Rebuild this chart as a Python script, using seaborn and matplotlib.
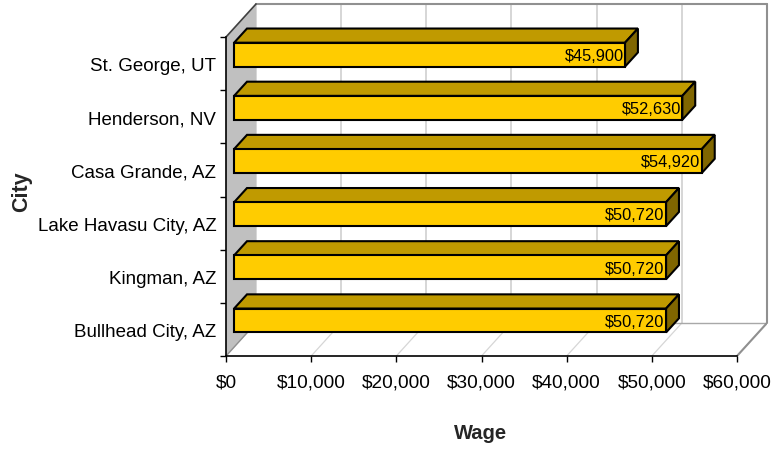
import matplotlib
matplotlib.use("Agg")
import matplotlib.pyplot as plt
from matplotlib.patches import Polygon
from matplotlib.ticker import FuncFormatter
import seaborn as sns
import pandas as pd

# Data
cities = ["St. George, UT", "Henderson, NV", "Casa Grande, AZ",
          "Lake Havasu City, AZ", "Kingman, AZ", "Bullhead City, AZ"]
wages = [45900, 52630, 54920, 50720, 50720, 50720]
x_ticks = [0, 10000, 20000, 30000, 40000, 50000, 60000]

df = pd.DataFrame({"City": cities, "Wage": wages})

sns.set_style("white")
plt.rcParams["font.family"] = ["Liberation Sans", "DejaVu Sans"]
fs_y, fs_x, fs_val = 13.5, 13.7, 11.8

W, H = 771, 452
fig = plt.figure(figsize=(W / 100, H / 100), dpi=100)
ax = fig.add_axes([226 / W, (H - 357) / H, (767 - 226) / W, (357 - 5) / H])

xmax = 60000
dx = 30 * xmax / 511          # depth of the 3D box in data units (x)
dy = 33 / (319 / 6)           # depth of the 3D box in category units (y)
f0, f1 = 0.27, 0.70           # front / back of the bars inside the depth

sns.barplot(data=df, x="Wage", y="City", orient="h", color="#FFCC00",
            saturation=1, edgecolor="black", linewidth=1.5, width=0.45,
            ax=ax, zorder=4)
bars = list(ax.patches)

# walls and floor
ax.add_patch(Polygon([(0, 5.5), (0, -0.5), (dx, -0.5 - dy), (dx, 5.5 - dy)],
                     closed=True, fc="#c0c0c0", ec="none", zorder=2))
for t in x_ticks:
    ax.plot([t, t + dx], [5.5, 5.5 - dy], color="#d6d6d6", lw=0.9, zorder=1)
    ax.plot([t + dx, t + dx], [5.5 - dy, -0.5 - dy], color="#cccccc", lw=1.1, zorder=1)
ax.plot([xmax + dx, xmax + dx], [5.5 - dy, -0.5 - dy], color="#909090", lw=1.5,
        zorder=1.5, clip_on=False)
ax.plot([dx, xmax + dx], [-0.5 - dy, -0.5 - dy], color="#909090", lw=1.5,
        zorder=1.5, clip_on=False)
ax.plot([dx, xmax + dx], [5.5 - dy, 5.5 - dy], color="#a8a8a8", lw=1, zorder=1.5)
ax.plot([xmax, xmax + dx], [5.5, 5.5 - dy], color="#909090", lw=1.5, zorder=1.5)
ax.plot([0, dx], [5.5, 5.5 - dy], color="#909090", lw=1, zorder=2.5)
ax.plot([0, dx], [-0.5, -0.5 - dy], color="#404040", lw=1.2, zorder=2.5,
        clip_on=False)

# 3D bars: shift the front face, then add top and side faces
d = f1 - f0
for p, v in zip(bars, wages):
    p.set_x(p.get_x() + f0 * dx)
    p.set_y(p.get_y() - f0 * dy)
    a, w = p.get_x(), p.get_width()
    yt, yb = p.get_y(), p.get_y() + p.get_height()
    top = [(a, yt), (a + w, yt), (a + w + d * dx, yt - d * dy), (a + d * dx, yt - d * dy)]
    side = [(a + w, yt), (a + w, yb), (a + w + d * dx, yb - d * dy), (a + w + d * dx, yt - d * dy)]
    ax.add_patch(Polygon(top, closed=True, fc="#C09A00", ec="black", lw=1.5, zorder=3.5))
    ax.add_patch(Polygon(side, closed=True, fc="#806600", ec="black", lw=1.5, zorder=3.5))
    ax.annotate(f"${v:,.0f}", xy=(a + w, (yt + yb) / 2), xytext=(-1, -0.5),
                textcoords="offset points", ha="right", va="center",
                fontsize=fs_val, color="black", zorder=6)

ax.set_xlim(0, xmax + dx)
ax.set_ylim(5.5, -0.5 - dy)
ax.set_xlabel("")
ax.set_ylabel("")

for s in ["top", "right"]:
    ax.spines[s].set_visible(False)
for s in ["left", "bottom"]:
    ax.spines[s].set_color("black")
    ax.spines[s].set_linewidth(1.2)
    ax.spines[s].set_zorder(5)
ax.spines["left"].set_bounds(-0.5, 5.5)
ax.spines["bottom"].set_bounds(0, xmax)

ax.set_xticks(x_ticks)
ax.xaxis.set_major_formatter(FuncFormatter(lambda v, pos: f"${v:,.0f}"))
ax.tick_params(axis="x", length=4, width=1, color="black", direction="out",
               pad=8.5, labelsize=fs_x, labelcolor="black", bottom=True)
ax.set_yticks(range(len(cities)))
ax.set_yticklabels(cities)
ax.set_yticks([i - 0.5 for i in range(len(cities) + 1)], minor=True)
ax.tick_params(axis="y", which="major", length=0, pad=7, labelsize=fs_y,
               labelcolor="black")
ax.tick_params(axis="y", which="minor", length=4, width=1, color="black",
               direction="out", left=True)

fig.text(481 / W, 1 - 434 / H, "Wage", ha="center", va="center",
         fontsize=14.5, fontweight="bold")
fig.text(22 / W, 1 - 192 / H, "City", ha="center", va="center", rotation=90,
         fontsize=15.5, fontweight="bold")

fig.savefig("out.png", dpi=100)
